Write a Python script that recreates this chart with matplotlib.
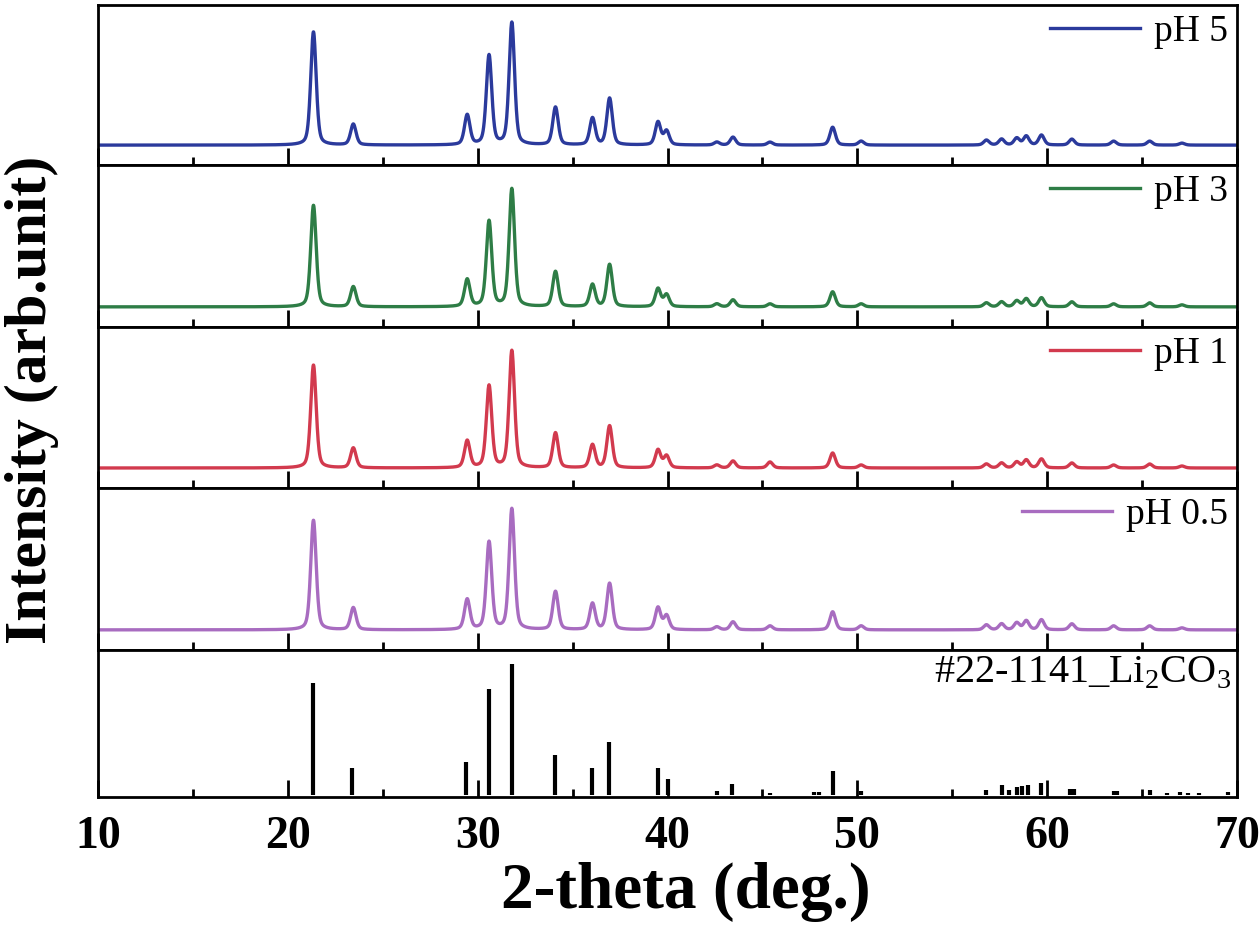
import numpy as np
import matplotlib.pyplot as plt

plt.rcParams['font.family'] = ['Liberation Serif', 'DejaVu Serif']
plt.rcParams['mathtext.fontset'] = 'custom'
plt.rcParams['mathtext.rm'] = 'Liberation Serif'

# peak positions (2-theta, deg.)
peak_pos = [21.35, 23.45, 29.45, 30.6, 31.8, 34.1, 36.05, 36.95, 39.5, 39.95,
            42.6, 43.45, 45.4, 48.7, 50.2, 56.8, 57.6, 58.4, 58.9, 59.7,
            61.3, 63.5, 65.4, 67.1]

# peak heights for each sample (arb.)
h_ph5 = [114, 21, 30, 90, 123, 38, 27, 47, 23, 14,
         3, 8, 3, 18, 4, 5, 6, 7, 9, 10, 6, 4, 4, 2]
h_ph3 = [101, 20, 27, 85, 117, 35, 22, 42, 18, 12,
         3, 7, 3, 15, 3, 4, 5, 6, 8, 9, 5, 3, 4, 2]
h_ph1 = [103, 20, 27, 82, 117, 35, 23, 42, 18, 12,
         3, 7, 6, 15, 3, 4, 5, 6, 8, 9, 5, 3, 4, 2]
h_ph05 = [109, 22, 30, 87, 120, 38, 26, 46, 22, 14,
          3, 8, 4, 18, 4, 5, 6, 7, 9, 10, 6, 4, 4, 2]

samples = ['pH 5', 'pH 3', 'pH 1', 'pH 0.5']
heights = [h_ph5, h_ph3, h_ph1, h_ph05]
colors = ['#2b3a9c', '#2e7d46', '#d23a4e', '#a86cc0']

# reference card #22-1141 Li2CO3
ref_pos = [21.3, 23.4, 29.4, 30.6, 31.8, 34.1, 36.0, 36.9, 39.5, 40.0,
           42.6, 43.4, 45.4, 47.7, 48.0, 48.7, 50.2, 56.8, 57.6, 58.0,
           58.4, 58.7, 59.0, 59.7, 61.2, 61.4, 63.5, 63.7, 65.4, 66.3,
           67.0, 67.4, 68.0, 69.5]
ref_int = [112, 27, 33, 106, 131, 40, 27, 53, 27, 16,
           4, 11, 2, 3, 3, 24, 4, 5, 10, 5,
           8, 9, 10, 12, 6, 6, 4, 4, 5, 2,
           3, 2, 2, 3]

x = np.linspace(10, 70, 4000)


def pattern(pos, amp, fwhm=0.34, eta=0.4):
    y = np.zeros_like(x)
    for p, a in zip(pos, amp):
        g = np.exp(-4 * np.log(2) * (x - p) ** 2 / fwhm ** 2)
        l = 1 / (1 + 4 * (x - p) ** 2 / fwhm ** 2)
        y += a * (eta * l + (1 - eta) * g)
    return y


fig = plt.figure(figsize=(12.6, 9.26), dpi=100)
gs = fig.add_gridspec(5, 1, height_ratios=[160, 162, 161, 162, 147], hspace=0,
                      left=98 / 1260, right=1237 / 1260, top=1 - 5 / 926, bottom=1 - 797 / 926)
axes = [fig.add_subplot(gs[i]) for i in range(5)]

for ax, name, h, c in zip(axes[:4], samples, heights, colors):
    ax.plot(x, pattern(peak_pos, h), color=c, lw=2.4, label=name)
    ax.set_ylim(-20, 141)
    ax.legend(loc='upper right', frameon=False, fontsize=27, handlelength=2.4,
              handletextpad=0.35, borderaxespad=0.1, borderpad=0.15)

ax = axes[4]
ax.vlines(ref_pos, 0, ref_int, color='k', lw=3)
ax.set_ylim(-2, 145)
ax.text(0.995, 0.97, r'#22-1141_Li$_{\mathregular{2}}$CO$_{\mathregular{3}}$',
        transform=ax.transAxes, ha='right', va='top', fontsize=29)

for i, ax in enumerate(axes):
    ax.set_xlim(10, 70)
    ax.set_xticks(np.arange(10, 71, 10))
    ax.set_xticks(np.arange(15, 70, 10), minor=True)
    ax.set_yticks([])
    ax.tick_params(axis='x', which='major', direction='in', length=12, width=2)
    ax.tick_params(axis='x', which='minor', direction='in', length=6, width=2)
    for s in ax.spines.values():
        s.set_linewidth(2)
    if i < 4:
        ax.tick_params(axis='x', labelbottom=False)
    else:
        ax.tick_params(axis='x', labelsize=33, pad=14)
        for t in ax.get_xticklabels():
            t.set_fontweight('bold')

fig.text(686 / 1260, 1 - 908 / 926, '2-theta (deg.)', fontsize=47,
         fontweight='bold', ha='center', va='baseline')
fig.text(32 / 1260, 1 - 400 / 926, 'Intensity (arb.unit)', rotation=90,
         fontsize=43, fontweight='bold', ha='center', va='center')

fig.savefig('out.png', dpi=100)
